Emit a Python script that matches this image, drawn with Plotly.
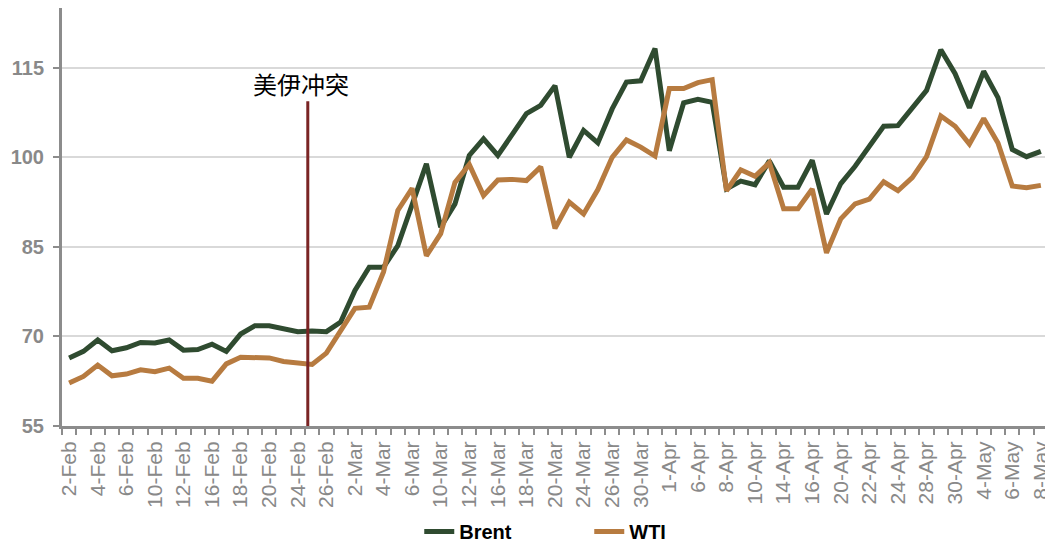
import plotly.graph_objects as go

dates = ["2-Feb","3-Feb","4-Feb","5-Feb","6-Feb","9-Feb","10-Feb","11-Feb","12-Feb","13-Feb",
         "16-Feb","17-Feb","18-Feb","19-Feb","20-Feb","23-Feb","24-Feb","25-Feb","26-Feb","27-Feb",
         "2-Mar","3-Mar","4-Mar","5-Mar","6-Mar","9-Mar","10-Mar","11-Mar","12-Mar","13-Mar",
         "16-Mar","17-Mar","18-Mar","19-Mar","20-Mar","23-Mar","24-Mar","25-Mar","26-Mar","27-Mar",
         "30-Mar","31-Mar","1-Apr","2-Apr","6-Apr","7-Apr","8-Apr","9-Apr","10-Apr","13-Apr",
         "14-Apr","15-Apr","16-Apr","17-Apr","20-Apr","21-Apr","22-Apr","23-Apr","24-Apr","27-Apr",
         "28-Apr","29-Apr","30-Apr","1-May","4-May","5-May","6-May","7-May","8-May"]

brent = [66.4,67.5,69.4,67.6,68.1,69.0,68.9,69.4,67.7,67.8,
         68.7,67.5,70.4,71.8,71.8,71.4,70.8,70.9,70.8,72.4,
         77.7,81.6,81.6,85.2,92.2,98.9,88.3,92.2,100.3,103.1,
         100.3,103.7,107.3,108.7,112.0,100.0,104.5,102.4,108.1,112.6,
         112.8,118.2,101.1,109.1,109.7,109.2,94.7,96.0,95.4,99.4,
         95.0,95.0,99.5,90.5,95.6,98.5,102.0,105.2,105.3,108.4,
         111.2,118.0,114.0,108.3,114.4,110.0,101.3,100.1,101.0]

wti = [62.2,63.3,65.2,63.4,63.7,64.4,64.1,64.7,63.0,63.0,
       62.5,65.4,66.5,66.5,66.4,65.8,65.5,65.3,67.2,71.0,
       74.7,74.9,80.8,91.1,94.8,83.5,87.2,95.8,98.8,93.6,
       96.2,96.3,96.1,98.4,88.1,92.5,90.5,94.6,100.0,102.9,
       101.7,100.2,111.5,111.5,112.5,113.0,94.4,97.9,96.8,99.1,
       91.4,91.4,94.7,84.0,89.7,92.2,93.0,95.9,94.4,96.6,
       100.1,106.9,105.2,102.2,106.5,102.4,95.2,94.9,95.3]

event_label = "美伊冲突"
event_pos = 16.7      # between 24-Feb and 25-Feb
event_top = 109.4
event_label_y = 112.3

y_ticks = [55, 70, 85, 100, 115]

idx = list(range(len(dates)))
tick_idx = idx[::2]
tick_txt = dates[::2]

GRAY = "#8c8c8c"
fig = go.Figure()
fig.add_trace(go.Scatter(x=idx, y=brent, mode="lines", name="Brent",
                         line=dict(color="#2f4b30", width=5)))
fig.add_trace(go.Scatter(x=idx, y=wti, mode="lines", name="WTI",
                         line=dict(color="#b77b40", width=5)))

fig.add_shape(type="line", xref="x", yref="y", x0=event_pos, x1=event_pos,
              y0=y_ticks[0], y1=event_top, line=dict(color="#7a2424", width=3))
fig.add_annotation(x=event_pos, y=event_label_y, xref="x", yref="y", text=event_label,
                   showarrow=False, xshift=-7,
                   font=dict(family="Noto Sans CJK SC", size=24, color="#000000"))

# page body adds an 8px offset; margins compensate for it
fig.update_layout(
    width=1053, height=543, autosize=False,
    margin=dict(l=54, r=13, t=0, b=125),
    plot_bgcolor="white", paper_bgcolor="white",
    showlegend=True,
    legend=dict(orientation="h", xref="container", yref="container", x=0.552, xanchor="center",
                y=0.0, yanchor="bottom",
                font=dict(family="Liberation Sans", size=20, color="#000000", weight="bold"),
                entrywidth=125, traceorder="normal"),
    xaxis=dict(range=[-0.5, len(dates) - 0.5], tickmode="array", tickvals=tick_idx, ticktext=tick_txt,
               tickangle=-90, ticks="", showgrid=False, zeroline=False, automargin=False,
               showline=True, linecolor=GRAY, linewidth=3,
               tickfont=dict(family="Liberation Sans", size=21, color="#898989"),
               minor=dict(ticks="outside", tick0=-0.5, dtick=1, ticklen=6, tickwidth=2,
                          tickcolor=GRAY, showgrid=False),
               ticklabelstandoff=4),
    yaxis=dict(range=[55, 125], tickmode="array", tickvals=y_ticks, automargin=False,
               showgrid=True, gridcolor="#d9d9d9", gridwidth=1.5, zeroline=False,
               showline=True, linecolor=GRAY, linewidth=3,
               ticks="outside", ticklen=6, tickwidth=2, tickcolor=GRAY,
               tickfont=dict(family="Liberation Sans", size=20, color="#898989", weight="bold"),
               ticklabelstandoff=5),
)

fig.write_html("out.html")
